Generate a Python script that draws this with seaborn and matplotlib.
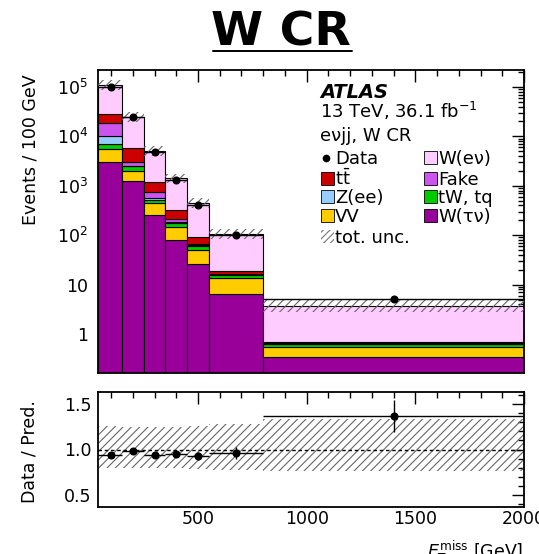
import numpy as np
import pandas as pd
import matplotlib
matplotlib.use("Agg")
import matplotlib.pyplot as plt
import seaborn as sns
from matplotlib.patches import Rectangle
from matplotlib.lines import Line2D
from matplotlib.ticker import MultipleLocator, LogLocator, FuncFormatter, NullFormatter, FixedLocator

# ---------------- data (per 100 GeV) ----------------
bin_edges = [40, 150, 250, 350, 450, 550, 800, 2000]
bin_centers = [100, 200, 300, 400, 500, 675, 1400]

w_enu = [79100, 19110, 3897, 1089, 347, 85.9, 3.05]
ttbar = [9850, 2640, 451, 103, 24.7, 2.4, 0.03]
fake = [8980, 490, 165, 31, 4.0, 0.6, 0.01]
z_ee = [3140, 60, 40, 10, 3.0, 0.5, 0.01]
tw_tq = [1510, 500, 75, 25, 11, 2.2, 0.075]
vv = [2460, 760, 197, 68, 23.7, 7.05, 0.215]
w_taunu = [2960, 1240, 255, 79.6, 26.2, 6.35, 0.338]

data = [101000, 24500, 4760, 1333, 407, 101, 5.1]
data_err = [320, 160, 70, 37, 20, 6.4, 0.65]

unc_up = [0.26, 0.25, 0.25, 0.25, 0.26, 0.28, 0.33]
unc_dn = [0.20, 0.20, 0.20, 0.20, 0.21, 0.22, 0.24]

ttbar_label = r"$\mathrm{t\bar{t}}$"
proc_labels = ["W(e\u03bd)", ttbar_label, "Fake", "Z(ee)", "tW, tq", "VV", "W(\u03c4\u03bd)"]
proc_values = [w_enu, ttbar, fake, z_ee, tw_tq, vv, w_taunu]
proc_colors = ["#FFCCFF", "#CC0000", "#CC55EE", "#99CCFF", "#00CC00", "#FFCC00", "#990099"]

# ---------------- style ----------------
sns.set_style("white")
plt.rcParams["font.family"] = ["DejaVu Sans"]
plt.rcParams["hatch.linewidth"] = 0.8
plt.rcParams["axes.linewidth"] = 1.3
for k in ["text.color", "axes.labelcolor", "axes.edgecolor", "xtick.color", "ytick.color"]:
    plt.rcParams[k] = "black"

W, H = 539, 554
def fx(x): return x / W
def fy(y): return 1 - y / H

fig = plt.figure(figsize=(W / 100, H / 100), dpi=100)
ax = fig.add_axes([fx(98), fy(373), fx(524) - fx(98), fy(70) - fy(373)])
ax2 = fig.add_axes([fx(98), fy(507), fx(524) - fx(98), fy(392) - fy(507)])

# ---------------- stacked histogram ----------------
rows = []
for lab, vals in zip(proc_labels, proc_values):
    for c, v in zip(bin_centers, vals):
        rows.append({"x": c, "w": v, "proc": lab})
df = pd.DataFrame(rows)
palette = dict(zip(proc_labels, proc_colors))

sns.histplot(data=df, x="x", weights="w", hue="proc", hue_order=proc_labels,
             multiple="stack", bins=bin_edges, palette=palette, alpha=1,
             edgecolor="black", linewidth=0.8, legend=False, ax=ax,
             element="bars", stat="count")

total = np.sum(np.array(proc_values, dtype=float), axis=0)
up = np.array(unc_up)
dn = np.array(unc_dn)
edges = np.array(bin_edges, dtype=float)

band_hi = np.append(total * (1 + up), total[-1] * (1 + up[-1]))
band_lo = np.append(total * (1 - dn), total[-1] * (1 - dn[-1]))
ax.fill_between(edges, band_lo, band_hi, step="post", facecolor="none",
                edgecolor="#666666", hatch="////", linewidth=0.0, zorder=5)

centers = np.array(bin_centers, dtype=float)
xerr = [centers - edges[:-1], edges[1:] - centers]
ax.errorbar(centers, data, yerr=data_err, xerr=xerr, fmt="o", color="black",
            ms=4.8, elinewidth=1.0, capsize=0, zorder=10)

ax.set_yscale("log")
ax.set_xlim(40, 2000)
ax.set_ylim(0.163, 2.2e5)
ax.set_xlabel("")
ax.set_ylabel("")

def logfmt(v, pos):
    if v <= 0:
        return ""
    e = int(round(np.log10(v)))
    if e == 0:
        return "1"
    if e == 1:
        return "10"
    return r"$10^{%d}$" % e

ax.yaxis.set_major_locator(LogLocator(base=10, numticks=10))
ax.yaxis.set_minor_locator(LogLocator(base=10, subs=np.arange(2, 10), numticks=20))
ax.yaxis.set_major_formatter(FuncFormatter(logfmt))
ax.yaxis.set_minor_formatter(NullFormatter())
ax.xaxis.set_major_locator(MultipleLocator(500))
ax.xaxis.set_minor_locator(MultipleLocator(100))
ax.tick_params(which="both", direction="in", top=True, right=True, width=1.0,
               labelbottom=False, labelsize=12.5)
ax.tick_params(which="major", length=8.5)
ax.tick_params(which="minor", length=4)
ax.tick_params(axis="y", which="both", pad=7)

# ---------------- ratio panel ----------------
ratio = np.array(data) / total
ratio_err = np.array(data_err) / total
r_hi = np.append(1 + up, 1 + up[-1])
r_lo = np.append(1 - dn, 1 - dn[-1])
ax2.fill_between(edges, r_lo, r_hi, step="post", facecolor="none",
                 edgecolor="#666666", hatch="////", linewidth=0.0, zorder=2)
ax2.axhline(1.0, color="black", lw=1.0, ls=(0, (2.5, 2)), zorder=3)
ax2.errorbar(centers, ratio, yerr=ratio_err, xerr=xerr, fmt="o", color="black",
             ms=4.8, elinewidth=1.0, capsize=0, zorder=10)
ax2.set_xlim(40, 2000)
ax2.set_ylim(0.37, 1.63)
ax2.yaxis.set_major_locator(FixedLocator([0.5, 1.0, 1.5]))
ax2.yaxis.set_major_formatter(FuncFormatter(lambda v, p: "%.1f" % v))
ax2.yaxis.set_minor_locator(MultipleLocator(0.1))
ax2.xaxis.set_major_locator(MultipleLocator(500))
ax2.xaxis.set_minor_locator(MultipleLocator(100))
ax2.tick_params(which="both", direction="in", top=True, right=True, width=1.0, labelsize=12.5)
ax2.tick_params(which="major", length=8.5)
ax2.tick_params(which="minor", length=4)
ax2.tick_params(axis="x", which="both", pad=2.5)
ax2.tick_params(axis="y", which="both", pad=4.5)

# ---------------- texts ----------------
fig.text(fx(281), fy(45), "W CR", fontsize=34, fontweight="bold", ha="center", va="baseline")
fig.add_artist(Line2D([fx(213), fx(352)], [fy(50.5), fy(50.5)], color="black", lw=1.4))

fig.text(fx(31), fy(150), "Events / 100 GeV", rotation=90, ha="center", va="center", fontsize=12.5)
fig.text(fx(30), fy(452), "Data / Pred.", rotation=90, ha="center", va="center", fontsize=12.5)
fig.text(fx(523), fy(557.5), r"$E_{\mathrm{T}}^{\mathrm{miss}}$ [GeV]", ha="right", va="baseline", fontsize=12.5)

fig.text(fx(320), fy(97.7), "ATLAS", fontsize=14, fontweight="bold", fontstyle="italic", va="baseline")
fig.text(fx(320), fy(118.3), r"13 TeV, 36.1 fb$^{\mathregular{-1}}$", fontsize=13, va="baseline")
fig.text(fx(320), fy(141), "e\u03bdjj, W CR", fontsize=13, va="baseline")

# ---------------- legend (drawn manually) ----------------
def box(x0, base, color, hatch=None):
    if hatch:
        r = Rectangle((fx(x0), fy(base)), fx(13), 13 / H, transform=fig.transFigure,
                      facecolor="none", edgecolor="#777777", hatch=hatch, linewidth=0)
    else:
        r = Rectangle((fx(x0), fy(base)), fx(13), 13 / H, transform=fig.transFigure,
                      facecolor=color, edgecolor="black", linewidth=0.6)
    fig.add_artist(r)

row_base = [164.3, 185.0, 203.3, 221.7, 243.0]
c1_box, c1_txt = 320.5, 335
c2_box, c2_txt = 424, 438.5
fs = 13

fig.add_artist(Line2D([fx(326)], [fy(158.3)], marker="o", color="black", ms=4.5, lw=0))
fig.text(fx(c1_txt), fy(row_base[0]), "Data", fontsize=fs, va="baseline")
col1 = [(ttbar_label, "#CC0000"), ("Z(ee)", "#99CCFF"), ("VV", "#FFCC00")]
for i, (lab, col) in enumerate(col1):
    box(c1_box, row_base[i + 1], col)
    fig.text(fx(c1_txt), fy(row_base[i + 1]), lab, fontsize=fs, va="baseline")
box(c1_box, row_base[4], None, hatch="/////")
fig.text(fx(c1_txt), fy(row_base[4]), "tot. unc.", fontsize=fs, va="baseline")
col2 = [("W(e\u03bd)", "#FFCCFF"), ("Fake", "#CC55EE"), ("tW, tq", "#00CC00"), ("W(\u03c4\u03bd)", "#990099")]
for i, (lab, col) in enumerate(col2):
    box(c2_box, row_base[i], col)
    fig.text(fx(c2_txt), fy(row_base[i]), lab, fontsize=fs, va="baseline")

fig.savefig("out.png", dpi=100)
